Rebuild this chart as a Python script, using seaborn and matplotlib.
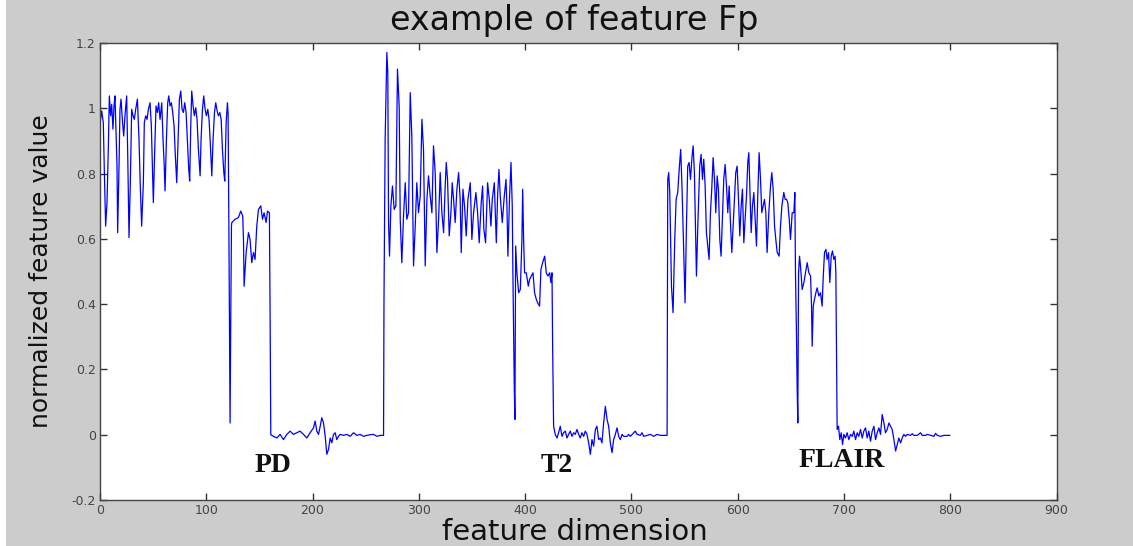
import matplotlib
matplotlib.use("Agg")
import matplotlib.pyplot as plt
from matplotlib import font_manager
from matplotlib.font_manager import FontProperties
from matplotlib.patches import Rectangle
import seaborn as sns
import pandas as pd

# ---------------- data ----------------
pd_osc_x = [0.0, 1.6, 3.1, 4.1, 5.3, 6.6, 7.8, 8.8, 10.0, 11.0, 12.2, 13.2, 14.1, 15.1, 16.0, 16.6,
            17.9, 18.8, 19.8, 21.0, 22.3, 23.5, 25.1, 26.1, 27.3, 28.6, 29.8, 31.1, 32.3, 33.6, 35.2,
            36.7, 38.0, 39.2, 40.8, 41.7, 43.0, 44.3, 45.5, 47.1, 48.3, 49.3, 50.2, 51.5, 52.7, 54.0,
            55.2, 56.5, 58.1, 59.3, 60.3, 61.2, 62.5, 63.7, 64.7, 65.9, 67.2, 68.4, 69.7, 70.9, 72.2,
            73.5, 74.7, 76.0, 77.2, 78.5, 79.7, 81.0, 82.2, 83.5, 84.4, 85.4, 86.3, 87.6, 88.8, 90.1,
            91.3, 92.6, 94.2, 95.1, 96.4, 97.6, 98.9, 100.1, 101.4, 102.6, 103.9, 105.2, 106.4, 107.7,
            108.9, 110.2, 111.4, 112.7, 114.0, 115.2, 116.5, 117.4, 118.7, 119.9, 120.5, 121.2, 121.8,
            122.1, 122.4, 123.0, 123.7]
pd_osc_y = [0.951, 0.992, 0.956, 0.803, 0.639, 0.711, 0.874, 1.038, 0.977, 1.012, 0.936, 1.007, 1.038,
            0.925, 0.823, 0.619, 0.823, 0.997, 1.028, 0.966, 0.915, 0.977, 1.038, 0.854, 0.604, 0.782,
            0.997, 0.977, 0.966, 0.997, 1.028, 0.905, 0.752, 0.639, 0.772, 0.956, 0.977, 0.966, 0.997,
            1.017, 0.946, 0.823, 0.711, 0.874, 1.007, 0.987, 1.017, 0.966, 1.017, 0.905, 0.834, 0.747,
            0.905, 1.017, 1.038, 1.007, 1.017, 0.987, 0.946, 0.854, 0.772, 0.905, 1.028, 1.053, 0.997,
            0.987, 1.017, 0.987, 0.905, 0.813, 0.777, 0.946, 1.053, 1.007, 0.977, 1.002, 0.966, 0.874,
            0.793, 0.905, 0.997, 1.038, 0.997, 0.977, 0.997, 0.966, 0.885, 0.793, 0.905, 0.987, 1.017,
            0.992, 0.977, 0.987, 0.966, 0.874, 0.803, 0.777, 0.956, 1.017, 0.987, 0.670, 0.343, 0.180,
            0.036, 0.343, 0.639]

pd_tail_x = [124.0, 127.1, 130.2, 132.4, 134.3, 135.0, 135.6, 137.5, 139.7, 141.2, 142.8, 144.4, 145.9,
             147.5, 149.1, 151.3, 152.9, 154.4, 156.3, 157.6, 159.4, 160.1, 160.7]
pd_tail_y = [0.650, 0.660, 0.665, 0.685, 0.670, 0.598, 0.455, 0.558, 0.619, 0.598, 0.527, 0.558, 0.537,
             0.639, 0.690, 0.701, 0.660, 0.680, 0.650, 0.685, 0.680, 0.343, 0.000]

pd_flat_x = [163.2, 166.4, 169.5, 172.6, 175.8, 178.9, 182.0, 185.2, 188.3, 191.5, 194.6, 197.7, 200.9,
             202.4, 204.0, 205.6, 207.2, 208.7, 210.3, 211.9, 213.4, 215.0, 216.6, 218.1, 219.7, 221.3,
             222.8, 224.4, 226.0, 229.1, 232.3, 235.4, 238.5, 241.7, 244.8, 248.0, 251.1, 254.2, 257.4,
             260.5, 263.7, 266.8]
pd_flat_y = [-0.005, -0.010, 0.001, -0.015, 0.001, 0.011, 0.001, 0.006, 0.011, 0.001, -0.010, 0.006, 0.021,
             0.042, 0.011, 0.001, 0.026, 0.052, 0.036, -0.005, -0.060, -0.045, -0.010, -0.025, 0.001, 0.006,
             -0.015, -0.005, 0.001, -0.002, 0.001, -0.005, 0.006, -0.002, 0.001, -0.005, -0.002, 0.000,
             0.001, -0.005, -0.002, -0.002]

t2_osc_x = [267.2, 268.3, 269.9, 270.8, 271.5, 272.4, 273.7, 275.2, 276.8, 278.4, 279.9, 281.5, 282.5,
            284.0, 285.6, 287.2, 288.7, 290.3, 291.9, 293.4, 295.0, 296.6, 298.1, 299.7, 301.3, 302.9,
            304.4, 306.0, 307.6, 309.1, 310.7, 312.3, 313.8, 315.4, 317.0, 318.6, 320.1, 321.7, 323.3,
            324.8, 325.8, 327.0, 328.6, 330.2, 331.4, 332.7, 334.2, 335.8, 337.4, 338.9, 339.9, 341.5,
            343.0, 344.6, 346.2, 348.4, 349.9, 351.5, 353.7, 355.3, 356.8, 358.7, 360.0, 361.2, 362.8,
            364.7, 366.3, 367.8, 369.1, 371.0, 372.9, 374.1, 375.4, 376.6, 378.5, 380.4, 382.0, 382.9,
            383.8, 385.4, 386.7, 387.9, 388.5, 389.8, 390.4, 391.1]
t2_osc_y = [0.404, 0.905, 1.171, 1.110, 0.650, 0.547, 0.701, 0.762, 0.690, 0.701, 1.120, 1.007, 0.660,
            0.527, 0.670, 0.772, 0.660, 0.680, 1.048, 0.915, 0.517, 0.639, 0.772, 0.680, 0.731, 0.966,
            0.874, 0.517, 0.721, 0.793, 0.731, 0.680, 0.885, 0.803, 0.558, 0.660, 0.803, 0.680, 0.619,
            0.762, 0.834, 0.782, 0.609, 0.680, 0.772, 0.721, 0.650, 0.752, 0.803, 0.721, 0.558, 0.752,
            0.701, 0.609, 0.721, 0.772, 0.598, 0.680, 0.742, 0.680, 0.588, 0.711, 0.762, 0.629, 0.588,
            0.772, 0.721, 0.639, 0.721, 0.772, 0.588, 0.731, 0.813, 0.731, 0.650, 0.731, 0.782, 0.701,
            0.547, 0.731, 0.834, 0.701, 0.496, 0.149, 0.047, 0.578]

t2_tail_x = [392.3, 393.9, 395.5, 397.0, 397.7, 398.6, 399.5, 401.1, 403.0, 404.2, 405.8, 407.4, 408.9,
             410.5, 411.8, 413.6, 414.9, 416.5, 418.4, 419.9, 421.5, 423.1, 424.3, 425.3, 425.9, 426.8]
t2_tail_y = [0.496, 0.435, 0.445, 0.598, 0.752, 0.598, 0.496, 0.496, 0.455, 0.476, 0.486, 0.496, 0.435,
             0.415, 0.404, 0.394, 0.507, 0.527, 0.547, 0.496, 0.486, 0.496, 0.466, 0.496, 0.271, 0.026]

t2_flat_x = [428.4, 430.0, 431.5, 433.1, 434.7, 436.2, 437.8, 439.4, 440.9, 442.5, 444.1, 445.7, 447.2,
             448.8, 450.4, 451.9, 453.5, 455.1, 456.6, 458.2, 459.8, 461.4, 462.9, 464.5, 466.1, 467.6,
             469.2, 470.8, 472.3, 473.9, 475.5, 477.1, 478.6, 480.2, 481.8, 483.3, 484.9, 486.5, 488.0,
             489.6, 491.2, 492.7, 495.9, 497.4, 499.0, 502.2, 503.7, 505.3, 508.4, 510.0, 511.6, 514.7,
             517.9, 521.0, 524.1, 527.3, 530.4, 533.6]
t2_flat_y = [0.001, -0.010, 0.006, 0.026, -0.005, 0.006, 0.011, -0.010, 0.001, 0.011, -0.005, 0.006, 0.001,
             0.016, 0.001, -0.010, 0.006, -0.005, 0.011, 0.001, -0.025, -0.060, -0.015, -0.035, 0.016,
             0.026, -0.015, -0.010, -0.025, 0.036, 0.087, 0.047, 0.026, -0.025, -0.055, -0.015, 0.001,
             0.021, -0.005, -0.015, 0.001, -0.005, -0.005, 0.001, -0.005, 0.006, 0.011, 0.001, -0.002,
             0.006, -0.005, -0.002, 0.001, -0.005, 0.001, -0.002, -0.002, -0.002]

flair_osc_x = [534.2, 535.1, 536.1, 537.7, 539.2, 540.8, 542.1, 543.6, 545.2, 546.4, 547.7, 549.3, 550.5,
               551.8, 553.0, 554.3, 555.6, 557.1, 558.1, 559.3, 560.6, 561.2, 562.5, 564.3, 565.6, 566.9,
               568.1, 569.4, 570.6, 571.9, 573.1, 574.4, 575.6, 576.9, 578.2, 579.4, 580.7, 581.9, 583.2,
               584.4, 585.7, 586.9, 588.2, 589.5, 590.7, 592.0, 593.2, 594.5, 595.7, 597.0, 598.2, 599.5,
               600.8, 602.0, 603.3, 604.5, 605.8, 607.0, 608.3, 609.5, 610.5, 611.4, 612.7, 613.9, 615.2,
               616.8, 617.7, 619.0, 620.2, 621.5, 622.7, 624.0, 625.2, 626.5, 627.7, 629.3, 630.9, 632.1,
               633.4, 634.7, 635.9, 637.2, 639.0, 640.3, 641.6, 643.4, 644.7, 646.0, 647.2, 648.5, 649.7,
               651.3, 652.9, 653.8, 654.4, 655.4, 656.0, 656.6, 657.3]
flair_osc_y = [0.782, 0.803, 0.742, 0.455, 0.374, 0.598, 0.721, 0.742, 0.823, 0.874, 0.752, 0.547, 0.404,
               0.639, 0.823, 0.834, 0.782, 0.854, 0.885, 0.803, 0.578, 0.486, 0.639, 0.823, 0.859, 0.782,
               0.844, 0.762, 0.619, 0.578, 0.537, 0.680, 0.752, 0.849, 0.782, 0.680, 0.793, 0.752, 0.598,
               0.547, 0.670, 0.782, 0.828, 0.762, 0.680, 0.762, 0.650, 0.558, 0.639, 0.721, 0.803, 0.823,
               0.721, 0.609, 0.701, 0.752, 0.588, 0.660, 0.731, 0.834, 0.864, 0.762, 0.619, 0.701, 0.742,
               0.639, 0.578, 0.742, 0.864, 0.782, 0.680, 0.701, 0.721, 0.680, 0.558, 0.680, 0.762, 0.803,
               0.752, 0.639, 0.598, 0.558, 0.547, 0.639, 0.701, 0.742, 0.721, 0.721, 0.711, 0.660, 0.598,
               0.680, 0.680, 0.742, 0.496, 0.292, 0.139, 0.036, 0.496]

flair_tail_x = [658.2, 659.1, 660.7, 662.3, 663.8, 665.4, 667.0, 668.6, 669.5, 670.1, 671.1, 672.3, 673.6,
                674.8, 676.4, 677.9, 679.5, 680.4, 681.7, 683.0, 684.2, 685.5, 686.7, 688.0, 689.2, 690.5,
                691.7, 692.4, 693.0, 693.6]
flair_tail_y = [0.547, 0.517, 0.445, 0.466, 0.496, 0.527, 0.496, 0.486, 0.394, 0.271, 0.394, 0.415, 0.435,
                0.450, 0.425, 0.435, 0.394, 0.476, 0.558, 0.568, 0.537, 0.558, 0.466, 0.547, 0.563, 0.537,
                0.547, 0.496, 0.241, 0.016]

flair_flat_x = [694.9, 696.1, 697.4, 698.7, 699.9, 701.5, 703.0, 704.6, 706.2, 707.8, 709.3, 710.9, 712.5,
                714.0, 715.6, 717.2, 718.7, 720.3, 721.9, 723.4, 725.0, 726.6, 728.2, 729.7, 731.3, 732.9,
                734.4, 736.0, 737.6, 739.1, 740.7, 742.3, 743.9, 745.4, 747.0, 748.6, 750.1, 751.7, 753.3,
                754.8, 756.4, 758.0, 759.5, 762.7, 764.3, 765.8, 769.0, 772.1, 773.7, 776.8, 778.4, 781.5,
                784.7, 786.2, 787.8, 790.9, 794.1, 799.7]
flair_flat_y = [0.026, -0.015, 0.006, -0.030, 0.001, -0.010, 0.006, -0.015, 0.001, -0.005, 0.011, -0.015,
                0.006, -0.005, 0.016, -0.010, 0.011, 0.021, -0.010, 0.011, -0.020, 0.011, 0.026, -0.015,
                0.006, 0.021, 0.001, 0.062, 0.036, 0.006, 0.016, 0.036, 0.026, 0.016, -0.015, -0.050, -0.030,
                -0.010, -0.025, -0.010, 0.001, -0.005, 0.001, -0.002, 0.003, -0.002, -0.002, 0.006, -0.002,
                -0.002, 0.001, -0.002, -0.005, 0.004, -0.002, -0.005, -0.002, -0.002]

x_ticks = [0, 100, 200, 300, 400, 500, 600, 700, 800, 900]
y_ticks = [-0.2, 0, 0.2, 0.4, 0.6, 0.8, 1.0, 1.2]
y_tick_labels = ["-0.2", "0", "0.2", "0.4", "0.6", "0.8", "1", "1.2"]
x_tick_labels = ["0", "100", "200", "300", "400", "500", "600", "700", "800", "900"]

seq_labels = ["PD", "T2", "FLAIR"]
seq_label_x = [163, 430, 698]
seq_label_y = [-0.095, -0.095, -0.078]

title_text = "example of feature Fp"
xlabel_text = "feature dimension"
ylabel_text = "normalized feature value"

# ---------------- build table ----------------
xs = (pd_osc_x + pd_tail_x + pd_flat_x + t2_osc_x + t2_tail_x + t2_flat_x
      + flair_osc_x + flair_tail_x + flair_flat_x)
ys = (pd_osc_y + pd_tail_y + pd_flat_y + t2_osc_y + t2_tail_y + t2_flat_y
      + flair_osc_y + flair_tail_y + flair_flat_y)
df = pd.DataFrame({"dimension": xs, "value": ys})

# ---------------- style ----------------
sns.set_theme(style="white")
plt.rcParams["font.family"] = ["DejaVu Sans"]


def has_font(name):
    try:
        font_manager.findfont(FontProperties(family=name), fallback_to_default=False)
        return True
    except Exception:
        return False


serif = "Liberation Serif" if has_font("Liberation Serif") else "DejaVu Serif"

W, H = 1133, 546
fig = plt.figure(figsize=(W / 100, H / 100), dpi=100, facecolor="white")
fig.patches.append(Rectangle((6 / W, 0), 1, 1, transform=fig.transFigure,
                             facecolor="#cccccc", edgecolor="none", zorder=-10))

ax = fig.add_axes([100 / W, 1 - 500 / H, 956.5 / W, 457 / H])
ax.set_facecolor("white")

sns.lineplot(data=df, x="dimension", y="value", estimator=None, sort=False,
             color="#0000ff", linewidth=0.9, ax=ax)

ax.set_xlim(0, 900)
ax.set_ylim(-0.2, 1.2)
ax.set_xticks(x_ticks)
ax.set_xticklabels(x_tick_labels)
ax.set_yticks(y_ticks)
ax.set_yticklabels(y_tick_labels)

ax.tick_params(axis="both", which="both", direction="in", length=5, width=1,
               color="#333333", labelsize=9, labelcolor="#444444",
               top=True, right=True, bottom=True, left=True, pad=3)
for s in ax.spines.values():
    s.set_visible(True)
    s.set_color("#444444")
    s.set_linewidth(1.0)

ax.set_title(title_text, fontsize=24, color="#111111", pad=9, x=0.496)
ax.set_xlabel(xlabel_text, fontsize=21, color="#111111", va="top")
ax.xaxis.set_label_coords(0.4965, -0.039)
ax.set_ylabel(ylabel_text, fontsize=18, color="#111111")
ax.yaxis.set_label_coords(-0.049, 0.5)

for lab, lx, ly in zip(seq_labels, seq_label_x, seq_label_y):
    ax.text(lx, ly, lab, ha="center", va="center", fontsize=20, fontweight="bold",
            family=[serif, "DejaVu Serif"], color="#111111")

fig.savefig("out.png", dpi=100, facecolor=fig.get_facecolor())
